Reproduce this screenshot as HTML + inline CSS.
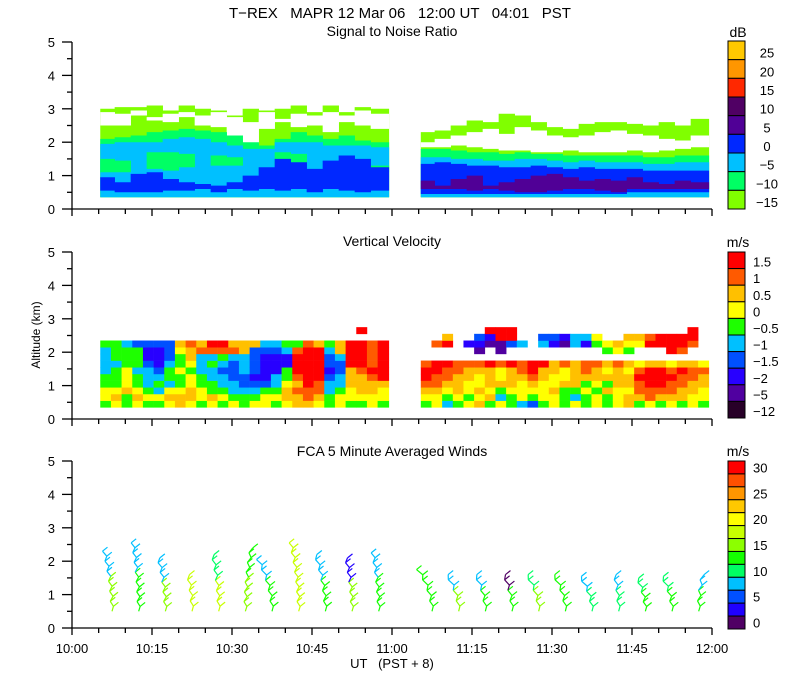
<!DOCTYPE html>
<html><head><meta charset="utf-8"><style>
html,body{margin:0;padding:0;background:#fff;}
svg{display:block;font-family:"Liberation Sans",sans-serif;}
</style></head><body>
<svg id="chart" width="800" height="700" viewBox="0 0 800 700" xmlns="http://www.w3.org/2000/svg">
<text x="400" y="18" font-size="15" text-anchor="middle" xml:space="preserve">T−REX   MAPR 12 Mar 06   12:00 UT   04:01   PST</text>
<text x="392" y="36" font-size="14" text-anchor="middle">Signal to Noise Ratio</text>
<text x="392" y="246" font-size="14" text-anchor="middle">Vertical Velocity</text>
<text x="392" y="456" font-size="14" text-anchor="middle">FCA 5 Minute Averaged Winds</text>
<text x="0" y="0" font-size="12" text-anchor="middle" transform="translate(40,335) rotate(-90)">Altitude (km)</text>
<text x="392" y="668" font-size="13" text-anchor="middle" xml:space="preserve">UT   (PST + 8)</text>
<g id="layers"></g>
</svg>
<script>
// ---------- data ----------
const xTickLabels = ["10:00","10:15","10:30","10:45","11:00","11:15","11:30","11:45","12:00"];
const yTickLabels = ["0","1","2","3","4","5"];
const snrColors = ["#ffc800","#ff9600","#ff2800","#500064","#500096","#0028ff","#00c0ff","#00ff64","#80ff00"];
const snrLabels = ["25","20","15","10","5","0","−5","−10","−15"];
const velColors = ["#ff0000","#ff5a00","#ffc000","#ffff00","#1eff00","#00c0ff","#0050ff","#2800ff","#5000a0","#280028"];
const velLabels = ["1.5","1","0.5","0","−0.5","−1","−1.5","−2","−5","−12"];
const windColors = ["#ff0000","#ff5000","#ff9600","#ffc800","#ffff00","#c8ff00","#8cff00","#14ff00","#00ff64","#00c0ff","#0050ff","#2000ff","#500064"];
const windLabels = ["30","25","20","15","10","5","0"];
// SNR segments (minutes after 10:00) and layer tops (km)
const snrT1 = [5.3,8,11,14,17,20,23,26,29,32,35,38,41,44,47,50,53,56,59.4];
const snrLg1 = [3.0,3.05,3.05,3.1,2.95,3.1,3.0,2.95,2.8,3.0,2.95,3.0,3.1,2.9,3.1,2.9,3.05,3.0,2.8];
const snrHoleHi1 = [2.9,2.85,2.95,2.75,2.85,2.9,2.8,2.9,2.75,2.6,2.9,2.7,2.85,2.8,2.9,2.8,2.95,2.85,2.6];
const snrHoleLo1 = [2.5,2.5,2.8,2.65,2.6,2.75,2.5,2.45,2.1,1.95,2.4,2.6,2.45,2.5,2.3,2.6,2.5,2.4,2.5];
const snrGr1 = [2.1,2.15,2.2,2.3,2.35,2.4,2.35,2.3,2.2,2.0,1.9,2.1,2.3,2.2,2.1,2.2,2.05,2.0,1.95];
const snrCy1 = [1.95,2.0,2.0,2.0,2.1,2.15,2.1,2.0,1.9,1.8,1.8,2.0,2.0,2.0,1.9,1.9,1.9,1.85,1.8];
const snrPatchHi1 = [1.5,1.45,1.3,1.7,1.7,1.65,1.5,1.6,1.55,1.2,1.3,1.7,1.65,1.2,1.3,1.2,1.3,1.3,1.2];
const snrPatchLo1 = [1.1,1.1,1.3,1.2,1.15,1.25,1.5,1.3,1.3,1.2,1.3,1.3,1.35,1.2,1.3,1.2,1.1,1.1,1.2];
const snrBl1 = [0.95,0.8,1.05,1.1,0.9,0.8,0.75,0.7,0.8,1.0,1.25,1.5,1.4,1.2,1.45,1.6,1.5,1.25,1.5];
const snrBlLo1 = [0.55,0.5,0.5,0.5,0.55,0.55,0.6,0.5,0.6,0.55,0.6,0.55,0.6,0.5,0.6,0.55,0.5,0.55,0.6];
const snrT2 = [65.4,68,71,74,77,80,83,86,89,92,95,98,101,104,107,110,113,116,119.4];
const snrLg2 = [2.3,2.35,2.5,2.65,2.6,2.85,2.8,2.6,2.45,2.4,2.55,2.6,2.6,2.55,2.5,2.6,2.5,2.7,2.9];
const snrHoleHi2 = [2.0,2.1,2.2,2.3,2.4,2.25,2.45,2.35,2.2,2.15,2.2,2.3,2.35,2.25,2.2,2.1,2.05,2.2,2.3];
const snrHoleLo2 = [1.85,1.85,1.9,1.85,1.8,1.75,1.75,1.7,1.7,1.75,1.7,1.7,1.7,1.75,1.7,1.75,1.8,1.85,1.95];
const snrGr2 = [1.8,1.8,1.75,1.7,1.7,1.65,1.7,1.65,1.65,1.6,1.6,1.6,1.6,1.6,1.55,1.55,1.6,1.6,1.6];
const snrCy2 = [1.55,1.55,1.5,1.5,1.45,1.45,1.5,1.5,1.45,1.4,1.45,1.4,1.4,1.4,1.35,1.35,1.4,1.4,1.35];
const snrBl2 = [1.35,1.4,1.35,1.3,1.3,1.25,1.25,1.3,1.25,1.2,1.25,1.2,1.2,1.2,1.15,1.15,1.15,1.15,1.1];
const snrBlLo2 = [0.45,0.45,0.45,0.45,0.45,0.45,0.45,0.45,0.45,0.45,0.45,0.45,0.45,0.5,0.5,0.5,0.5,0.5,0.45];
const snrPuHi2 = [0.85,0.7,0.9,1.0,0.7,0.8,0.9,1.0,1.05,0.95,0.85,0.9,0.85,0.95,0.8,0.75,0.85,0.8,0.7];
const snrPuLo2 = [0.6,0.6,0.6,0.55,0.6,0.55,0.5,0.5,0.55,0.6,0.6,0.55,0.5,0.6,0.6,0.6,0.6,0.6,0.6];
// Vertical velocity: columns of level codes (0=-12 ... 9=+1.5), bottom->top, rows of 0.2 km from 0.35 km
const velT1 = [5.3,7.3,9.3,11.3,13.3,15.3,17.3,19.3,21.3,23.3,25.3,27.3,29.3,31.3,33.3,35.3,37.3,39.3,41.3,43.3,45.3,47.3,49.3,51.3,53.3,55.3,57.3];
const velCols1 = ["5665544445..","6765554555..","5576665554..","6765545553..","5654443223..","5645432223..","6764554333..","7765565567..","6776656778..","5665544487..","6755445489..","5654434589..","6544333487..","5543344477..","6543233337..","6653222234..","5654422234..","6776552245..","7787899985..","7889999998..","6788999997..","5544323345..","6654433477..","5667779999..","5677789999.9","6677898888..","5667999999.."];
const velT2 = [65.4,67.4,69.4,71.4,73.4,75.4,77.4,79.4,81.4,83.4,85.4,87.4,89.4,91.4,93.4,95.4,97.4,99.4,101.4,103.4,105.4,107.4,109.4,111.4,113.4,115.4,117.4];
const velCols2 = ["5678998.....","6678899..8..","4567889..97.","5677788.....","6566778..2..","7676678.123.","5767779..129","6457668.1199","5567779..399","4666788..4..","3567899.....","5666779..43.","6676677..23.","5557668..12.","6457777..44.","5565788..24.","6656778..56.","5575767.56..","6667778.67..","7767767.567.","5788986..67.","6889997..98.","5789997..99.","6788986.999.","5778897.899.","6677887..899","5667786....."];
// Winds: station times (min), top altitude (km), lean of upper shaft (px), colour index low/high
const windT = [7.5,12.5,17.5,22.5,27.5,32.5,37.5,42.5,47.5,52.5,57.5,67.5,72.5,77.5,82.5,87.5,92.5,97.5,102.5,107.5,112.5,117.5];
const windTop = [2.3,2.55,2.1,1.6,2.2,2.4,2.05,2.55,2.2,2.1,2.25,1.75,1.6,1.6,1.6,1.6,1.6,1.55,1.6,1.5,1.55,1.6];
const windLean = [-8,-6,-7,-4,-6,6,-14,-8,-10,-6,-6,-14,-12,-10,-8,-12,-12,-12,-4,-8,-10,4];
const windLo = [6,7,6,5,5,6,7,5,7,6,7,7,6,7,7,6,7,8,8,7,7,7];
const windHi = [9,9,9,5,8,7,9,5,9,11,9,7,9,9,12,8,7,9,9,8,8,9];

// ---------- axes ----------
const X0=72, X1=712;
const xs = m => X0 + (X1-X0)*m/120;
const panels=[{base:209,name:"snr"},{base:419,name:"velocity"},{base:628,name:"winds"}];
const KM=33.4;
const ys = (p,km) => panels[p].base - km*KM;
const NS="http://www.w3.org/2000/svg";
const root=document.getElementById('layers');
function mk(tag,attrs,parent){const e=document.createElementNS(NS,tag);for(const k in attrs)e.setAttribute(k,attrs[k]);(parent||root).appendChild(e);return e;}

// SNR panel
function band(p,T,lo,hi,color,name){
  let d="";
  for(let i=0;i<T.length-1;i++){
    const xa=xs(T[i]),xb=xs(T[i+1]);
    const l=typeof lo==="number"?lo:lo[i], h=hi[i];
    if(h<=l) continue;
    d+=`M${xa},${ys(p,h)}H${xb+0.3}V${ys(p,l)}H${xa}Z`;
  }
  const e=mk('path',{d:d,fill:color});
  
  
}
[[snrT1,snrLg1,snrHoleHi1,snrHoleLo1,snrGr1,snrCy1,snrBl1,snrBlLo1,null,null,snrPatchLo1,snrPatchHi1],[snrT2,snrLg2,snrHoleHi2,snrHoleLo2,snrGr2,snrCy2,snrBl2,snrBlLo2,snrPuHi2,snrPuLo2,null,null]].forEach((s,k)=>{
  const [T,lg,hh,hl,gr,cy,bl,bll,ph,pl,gl,gh]=s;
  band(0,T,0.35,lg,snrColors[8],'snr-band-m15-seg'+(k+1));
  band(0,T,hl,hh,"#ffffff",'snr-gap-seg'+(k+1));
  band(0,T,0.35,gr,snrColors[7],'snr-band-m10-seg'+(k+1));
  band(0,T,0.35,cy,snrColors[6],'snr-band-m5-seg'+(k+1));
  if(gl) band(0,T,gl,gh,snrColors[7],'snr-patch-m10-seg'+(k+1));
  band(0,T,bll,bl,snrColors[5],'snr-band-0-seg'+(k+1));
  if(ph) band(0,T,pl,ph,snrColors[4],'snr-band-5-seg'+(k+1));
});

// Velocity panel
const velCodeColor = c => velColors[9-parseInt(c,10)];
[[velT1,velCols1,59.4],[velT2,velCols2,119.4]].forEach(([T,C,end])=>{
  for(let i=0;i<T.length;i++){
    const xa=xs(T[i]), xb=xs(i+1<T.length?T[i+1]:end);
    const col=C[i];
    for(let r=0;r<col.length;r++){
      const ch=col[r]; if(ch===".") continue;
      const lo=0.35+0.2*r, hi=lo+0.2;
      const e=mk('rect',{x:xa,y:ys(1,hi),width:xb-xa+0.3,height:0.2*KM+0.3,fill:velCodeColor(ch)});
      
      
    }
  }
});

// Winds panel
for(let i=0;i<windT.length;i++){
  const x0=xs(windT[i]);
  const g=mk('g',{});
  
  
  const n=Math.round((windTop[i]-0.5)/0.15);
  let px=x0, py=ys(2,0.5);
  for(let k=1;k<=n;k++){
    const a=0.5+k*(windTop[i]-0.5)/n;
    const f=k/n;
    const nx=x0+windLean[i]*f*f+((k%2)?1.5:-1.5);
    const ny=ys(2,a);
    const ci=f>0.6?windHi[i]:windLo[i];
    const c=windColors[ci];
    mk('line',{x1:px,y1:py,x2:nx,y2:ny,stroke:c,'stroke-width':1.2},g);
    mk('line',{x1:nx,y1:ny,x2:nx+5,y2:ny-4,stroke:c,'stroke-width':1.2},g);
    px=nx;py=ny;
  }
}

// axes & ticks
panels.forEach((p,k)=>{
  const g=mk('g',{stroke:'#000','stroke-width':1.3,fill:'none'});
  
  
  mk('line',{x1:X0,y1:ys(k,5),x2:X0,y2:p.base},g);
  mk('line',{x1:X0,y1:p.base,x2:X1,y2:p.base},g);
  for(let m=0;m<=120;m+=5){
    mk('line',{x1:xs(m),y1:p.base,x2:xs(m),y2:p.base+(m%15===0?7:5)},g);
  }
  for(let h=0;h<=10;h++){
    mk('line',{x1:X0-(h%2===0?10:5),y1:ys(k,h/2),x2:X0,y2:ys(k,h/2)},g);
  }
  yTickLabels.forEach((t,j)=>{
    const e=mk('text',{x:X0-17,y:ys(k,j)+5,'font-size':13,'text-anchor':'end'});
    e.textContent=t;
    
    
  });
});
xTickLabels.forEach((t,j)=>{
  const e=mk('text',{x:xs(j*15),y:653,'font-size':13,'text-anchor':'middle'});
  e.textContent=t;
  
  
});

// colour bars
function colorbar(colors,labels,top,bottom,unit,unitY,every,anchorMid,name){
  const g=mk('g',{});
  
  
  const h=(bottom-top)/colors.length;
  colors.forEach((c,j)=>{mk('rect',{x:728,y:top+j*h,width:17,height:h,fill:c,stroke:'#000','stroke-width':1},g);});
  const u=mk('text',{x:738,y:unitY,'font-size':14,'text-anchor':'middle'},g);u.textContent=unit;
  labels.forEach((t,j)=>{
    const yy = every===1 ? top+(j+1)*h-2 : top+j*every*h+h/2+5;
    const e=mk('text',{x:anchorMid?767:753,y:yy,'font-size':13,'text-anchor':anchorMid?'middle':'start'},g);
    e.textContent=t;
  });
}
colorbar(snrColors,snrLabels,41,209,"dB",37,1,true,'snr-colorbar');
colorbar(velColors,velLabels,252,418,"m/s",247,1,false,'velocity-colorbar');
colorbar(windColors,windLabels,461,629,"m/s",456,2,false,'wind-colorbar');
</script>
</body></html>
